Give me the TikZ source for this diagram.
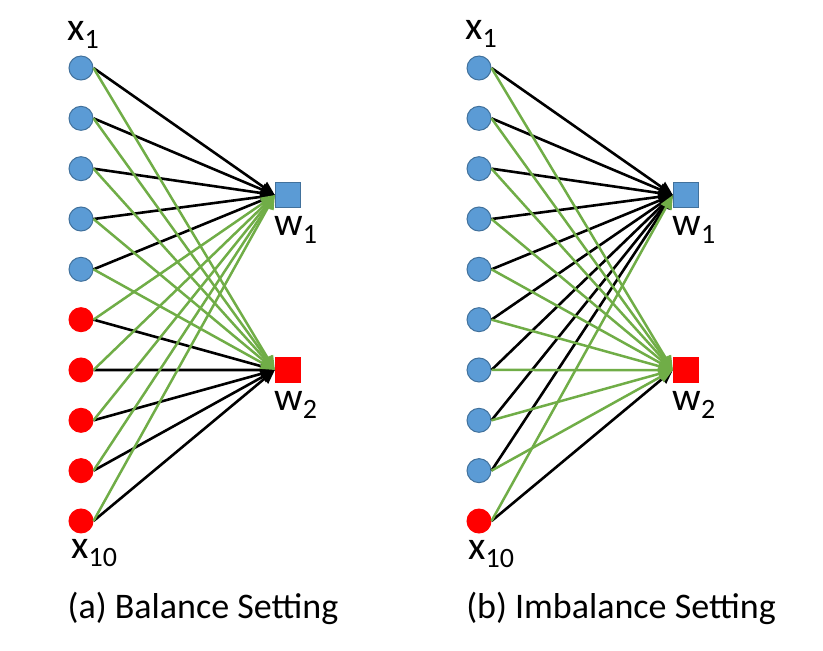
\documentclass[tikz,border=0pt]{standalone}
\usepackage{fontspec}
\setmainfont{Carlito}
\usetikzlibrary{arrows.meta, positioning}
\definecolor{nodeblue}{HTML}{5B9BD5}
\definecolor{edgeblue}{HTML}{41719C}
\definecolor{linkgreen}{HTML}{70AD47}
\newcommand{\idx}[1]{\raisebox{-0.45ex}{\fontsize{14}{15}\selectfont #1}}

\begin{document}
\begin{tikzpicture}[
    x=0.5pt, y=-0.5pt,
    >={Triangle[length=7pt,width=6pt]},
    inblue/.style={circle, draw=edgeblue, fill=nodeblue, line width=0.5pt, minimum size=12pt, inner sep=0pt},
    inred/.style={circle, draw=red, fill=red, line width=0.5pt, minimum size=12pt, inner sep=0pt},
    outblue/.style={rectangle, draw=edgeblue, fill=nodeblue, line width=0.6pt, minimum size=12.5pt, inner sep=0pt},
    outred/.style={rectangle, draw=red, fill=red, line width=0.6pt, minimum size=12.5pt, inner sep=0pt},
    lbl/.style={font=\fontsize{20}{24}\selectfont, inner sep=0pt, anchor=base west},
    capt/.style={font=\fontsize{18}{22}\selectfont, inner sep=0pt},
    blk/.style={->, black, line width=1.3pt},
    grn/.style={->, linkgreen, line width=1.25pt}
]
    \useasboundingbox (0,0) rectangle (823,650);

    % (a) Balance: inputs
    \foreach \i in {1,...,5}
        \node[inblue] (a\i) at (81,{68+(\i-1)*50.33}) {};
    \foreach \i in {6,...,10}
        \node[inred] (a\i) at (81,{68+(\i-1)*50.33}) {};
    \node[outblue] (aw1) at (288,195) {};
    \node[outred] (aw2) at (288,370) {};

    % (a) links
    \foreach \i in {1,...,5}
        \draw[blk] (a\i.east) -- (aw1.west);
    \foreach \i in {6,...,10}
        \draw[blk] (a\i.east) -- (aw2.west);
    \foreach \i in {1,...,5}
        \draw[grn] (a\i.east) -- (aw2.west);
    \foreach \i in {6,...,10}
        \draw[grn] (a\i.east) -- (aw1.west);

    % (b) Imbalance: inputs
    \foreach \i in {1,...,9}
        \node[inblue] (b\i) at (479,{68+(\i-1)*50.33}) {};
    \node[inred] (b10) at (479,521) {};
    \node[outblue] (bw1) at (686,195) {};
    \node[outred] (bw2) at (686,370) {};

    % (b) links
    \foreach \i in {1,...,9}
        \draw[blk] (b\i.east) -- (bw1.west);
    \draw[blk] (b10.east) -- (bw2.west);
    \foreach \i in {1,...,9}
        \draw[grn] (b\i.east) -- (bw2.west);
    \draw[grn] (b10.east) -- (bw1.west);

    % Labels
    \node[lbl] (ax1) at (67,40) {x\idx{1}};
    \node[lbl] (ax10) at (71,558) {x\idx{10}};
    \node[lbl] (aw1l) at (274,235) {w\idx{1}};
    \node[lbl] (aw2l) at (274,410) {w\idx{2}};
    \node[lbl] (bx1) at (465,39) {x\idx{1}};
    \node[lbl] (bx10) at (468,559) {x\idx{10}};
    \node[lbl] (bw1l) at (672,235) {w\idx{1}};
    \node[lbl] (bw2l) at (672,410) {w\idx{2}};

    % Captions
    \node[capt] (capa) at (203,608) {(a) Balance Setting};
    \node[capt] (capb) at (621,608) {(b) Imbalance Setting};
\end{tikzpicture}
\end{document}
